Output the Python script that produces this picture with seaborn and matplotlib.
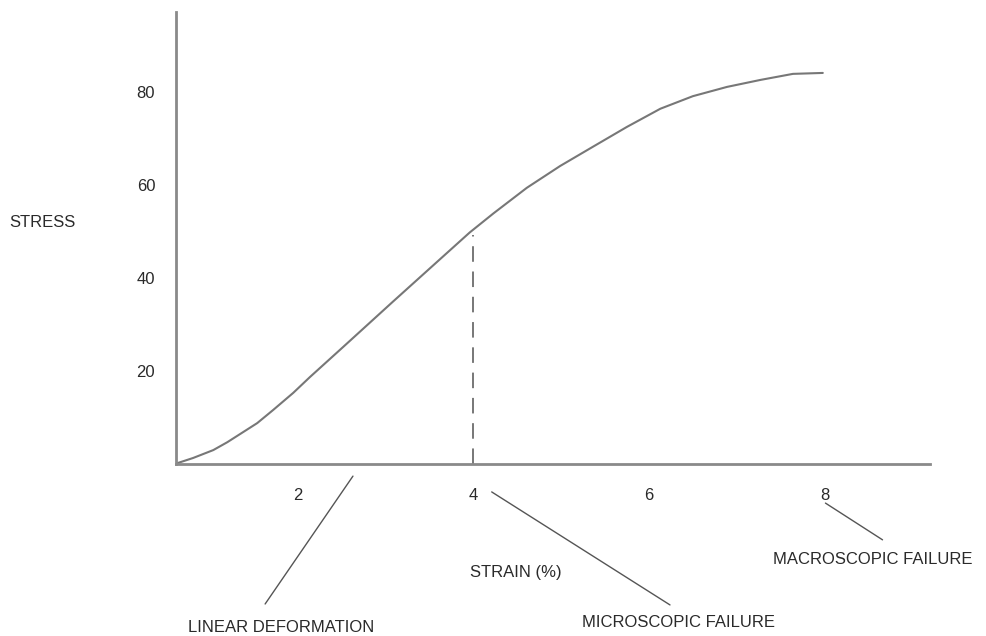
import pandas as pd
import matplotlib
matplotlib.use('Agg')
import matplotlib.pyplot as plt
import seaborn as sns

# stress-strain curve
strain = [0.60, 0.81, 1.04, 1.20, 1.54, 1.72, 1.95, 2.14, 2.52, 3.09, 3.66,
          3.96, 4.23, 4.61, 4.99, 5.36, 5.75, 6.13, 6.50, 6.89, 7.27, 7.64, 7.98]
stress = [0.0, 1.3, 3.0, 4.7, 8.8, 11.6, 15.3, 18.7, 25.2, 35.0, 44.7,
          49.8, 53.9, 59.4, 64.1, 68.2, 72.5, 76.4, 79.1, 81.1, 82.6, 83.9, 84.1]

x_ticks = [2, 4, 6, 8]
y_ticks = [20, 40, 60, 80]
micro_strain = 4
micro_stress = 49.2

sns.set_style('white')
plt.rcParams['font.family'] = ['Liberation Sans', 'DejaVu Sans']

df = pd.DataFrame({'strain': strain, 'stress': stress})

fig = plt.figure(figsize=(9.87, 6.36), dpi=100)
ax = fig.add_axes([0.1783, 0.2704, 0.7639, 0.7107])

sns.lineplot(data=df, x='strain', y='stress', ax=ax, color='#777777', linewidth=1.5)
ax.plot([micro_strain, micro_strain], [0, micro_stress], color='#777777',
        linewidth=1.4, linestyle=(0, (8, 5)))

ax.set_xlim(0.615, 9.20)
ax.set_ylim(0, 97.2)
ax.set_xticks(x_ticks)
ax.set_yticks(y_ticks)
ax.tick_params(length=0, labelsize=12, colors='#2a2a2a')
ax.tick_params(axis='x', pad=17)
ax.tick_params(axis='y', pad=15)
ax.set_xlabel('')
ax.set_ylabel('')
sns.despine(ax=ax)
for side in ['left', 'bottom']:
    ax.spines[side].set_color('#8a8a8a')
    ax.spines[side].set_linewidth(2)

txt = dict(fontsize=12, color='#2a2a2a', va='center', ha='left', clip_on=False)
ln = dict(color='#555555', linewidth=1, clip_on=False)

ax.text(-1.28, 52.0, 'STRESS', **txt)
ax.text(3.96, -23.4, 'STRAIN (%)', **txt)

ax.plot([2.63, 1.63], [-2.6, -30.1], **ln)
ax.text(0.75, -35.1, 'LINEAR DEFORMATION', **txt)

ax.plot([4.21, 6.24], [-6.0, -30.3], **ln)
ax.text(5.24, -34.0, 'MICROSCOPIC FAILURE', **txt)

ax.plot([8.01, 8.66], [-8.4, -16.3], **ln)
ax.text(7.41, -20.6, 'MACROSCOPIC FAILURE', **txt)

fig.savefig('out.png', dpi=100)
